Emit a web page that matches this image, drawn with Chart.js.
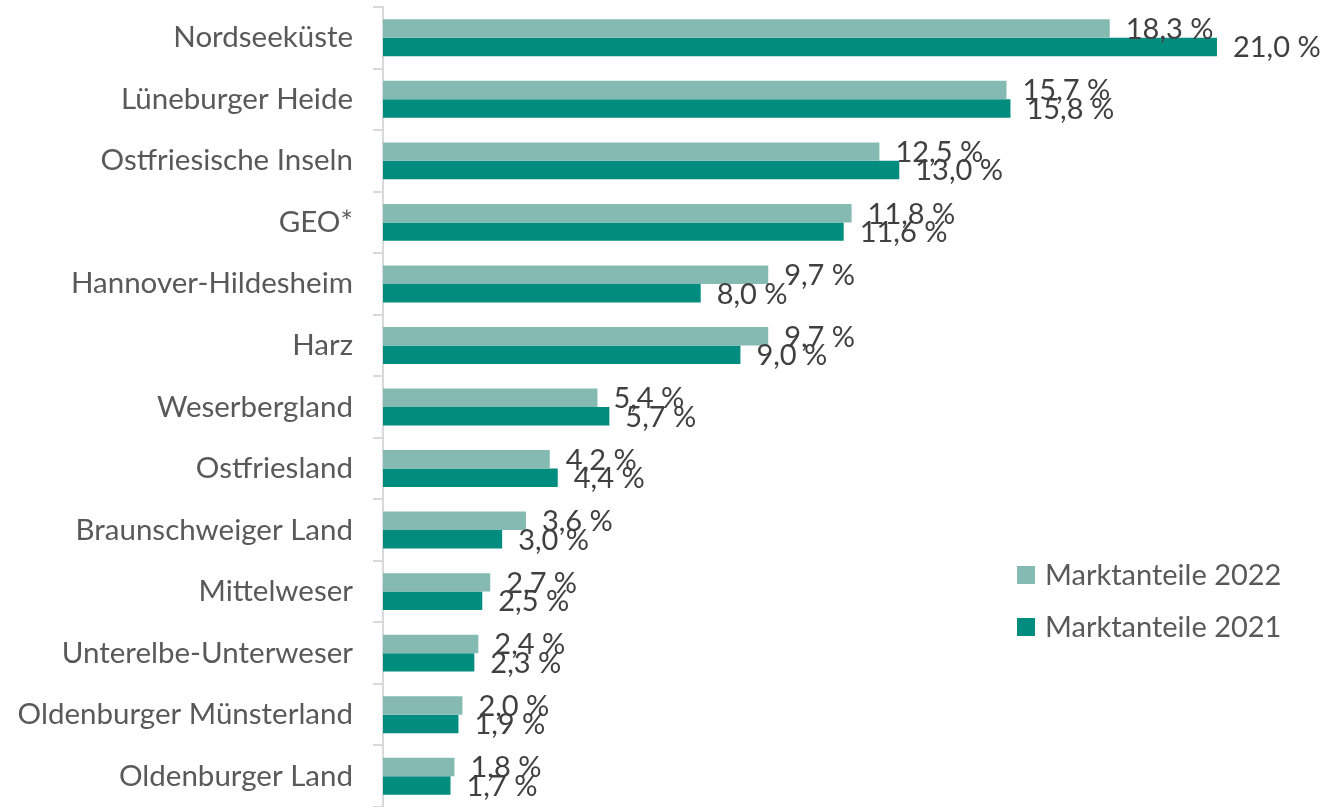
<!DOCTYPE html>
<html>
<head>
<meta charset="utf-8">
<script src="https://cdn.jsdelivr.net/npm/chart.js@4.4.1/dist/chart.umd.min.js"></script>
<style>
  html, body { margin: 0; padding: 0; background: #ffffff; }
  #wrap { position: relative; width: 1322px; height: 807px; }
</style>
</head>
<body>
<div id="wrap"><canvas id="c" width="1322" height="807"></canvas></div>
<script>
const categories = ["Nordseeküste", "Lüneburger Heide", "Ostfriesische Inseln", "GEO*", "Hannover-Hildesheim", "Harz", "Weserbergland", "Ostfriesland", "Braunschweiger Land", "Mittelweser", "Unterelbe-Unterweser", "Oldenburger Münsterland", "Oldenburger Land"];
const values2022 = [18.3, 15.7, 12.5, 11.8, 9.7, 9.7, 5.4, 4.2, 3.6, 2.7, 2.4, 2.0, 1.8];
const values2021 = [21.0, 15.8, 13.0, 11.6, 8.0, 9.0, 5.7, 4.4, 3.0, 2.5, 2.3, 1.9, 1.7];
const seriesNames = ["Marktanteile 2022", "Marktanteile 2021"];

const FONT = "Lato, 'Open Sans', sans-serif";
const FSIZE = 29;
const CAT_FSIZE = 29.5;
const colLight = "#85BAB2";
const colDark = "#008D7F";

function fmt(v) { return v.toFixed(1).replace(".", ",") + " %"; }

const valueLabels = {
  id: "valueLabels",
  afterDatasetsDraw(chart) {
    const ctx = chart.ctx;
    ctx.save();
    ctx.font = FSIZE + "px " + FONT;
    ctx.fillStyle = "#404040";
    ctx.textAlign = "left";
    ctx.textBaseline = "middle";
    chart.data.datasets.forEach((ds, di) => {
      const meta = chart.getDatasetMeta(di);
      meta.data.forEach((bar, i) => {
        ctx.fillText(fmt(ds.data[i]), bar.x + 16, bar.y + 1);
      });
    });
    ctx.restore();
  }
};

const customLegend = {
  id: "customLegend",
  afterDraw(chart) {
    const ctx = chart.ctx;
    ctx.save();
    ctx.font = FSIZE + "px " + FONT;
    ctx.textBaseline = "middle";
    ctx.textAlign = "left";
    const ys = [575, 627];
    chart.data.datasets.forEach((ds, di) => {
      ctx.fillStyle = ds.backgroundColor;
      ctx.fillRect(1017, ys[di] - 9, 18, 18);
      ctx.fillStyle = "#595959";
      ctx.fillText(ds.label, 1045, ys[di] + 1);
    });
    ctx.restore();
  }
};

new Chart(document.getElementById("c"), {
  type: "bar",
  data: {
    labels: categories,
    datasets: [
      { label: seriesNames[0], data: values2022, backgroundColor: colLight, categoryPercentage: 0.6, barPercentage: 1.0 },
      { label: seriesNames[1], data: values2021, backgroundColor: colDark, categoryPercentage: 0.6, barPercentage: 1.0 }
    ]
  },
  options: {
    indexAxis: "y",
    responsive: false,
    animation: false,
    devicePixelRatio: 1,
    layout: { padding: { top: 7, bottom: 0, left: 0, right: 25.6 } },
    plugins: {
      legend: { display: false },
      tooltip: { enabled: false }
    },
    scales: {
      x: {
        display: false,
        min: 0,
        max: 23
      },
      y: {
        afterFit(scale) {
          scale.width = 383;
          scale.paddingTop = 0;
          scale.paddingBottom = 0;
        },
        grid: {
          offset: true,
          drawOnChartArea: false,
          drawTicks: true,
          tickLength: 10,
          color: "#D9D9D9",
          lineWidth: 2
        },
        border: { display: true, color: "#D9D9D9", width: 2 },
        ticks: {
          padding: 20,
          color: "#595959",
          font: { family: FONT, size: CAT_FSIZE },
          autoSkip: false
        }
      }
    }
  },
  plugins: [valueLabels, customLegend]
});
</script>
</body>
</html>
